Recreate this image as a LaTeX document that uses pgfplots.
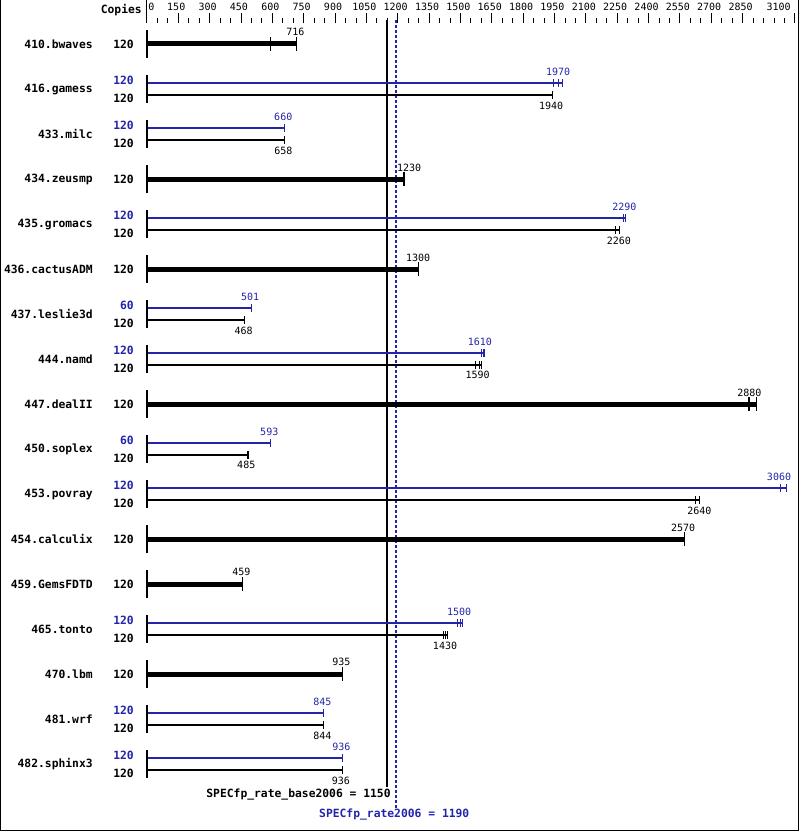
\documentclass[border=0pt]{standalone}
\usepackage{pgfplots}
\pgfplotsset{compat=1.18}
\usepackage{pgfplotstable}
\usepackage{fontspec}
\setmainfont{DejaVu Sans Mono}
\definecolor{peakblue}{RGB}{36,36,170}
\newcommand{\bfont}{\fontsize{8.5}{10}\selectfont\bfseries}
\newcommand{\rfont}{\fontsize{7.5}{9}\selectfont}

% benchmark names (y = row centre, in pixels from top)
\pgfplotstableread{
x y name
-258.4 44 410.bwaves
-258.4 89 416.gamess
-258.4 134 433.milc
-258.4 179 434.zeusmp
-258.4 224 435.gromacs
-258.4 269 436.cactusADM
-258.4 314 437.leslie3d
-258.4 359 444.namd
-258.4 404 447.dealII
-258.4 449 450.soplex
-258.4 494 453.povray
-258.4 539 454.calculix
-258.4 584 459.GemsFDTD
-258.4 629 465.tonto
-258.4 674 470.lbm
-258.4 719 481.wrf
-258.4 764 482.sphinx3
}\names

% copies, base
\pgfplotstableread{
x y c
-23.9 10 Copies
-62.2 44 120
-62.2 98 120
-62.2 143 120
-62.2 179 120
-62.2 233 120
-62.2 269 120
-62.2 323 120
-62.2 368 120
-62.2 404 120
-62.2 458 120
-62.2 503 120
-62.2 539 120
-62.2 584 120
-62.2 638 120
-62.2 674 120
-62.2 728 120
-62.2 773 120
}\copiesbase

% copies, peak
\pgfplotstableread{
x y c
-62.2 80 120
-62.2 125 120
-62.2 215 120
-62.2 305 60
-62.2 350 120
-62.2 440 60
-62.2 485 120
-62.2 620 120
-62.2 710 120
-62.2 755 120
}\copiespeak

% combined result bars (base = peak)
\pgfplotstableread{
x y
0 44
716 44
nan nan
0 179
1232 179
nan nan
0 269
1300 269
nan nan
0 404
2915 404
nan nan
0 539
2570 539
nan nan
0 584
459 584
nan nan
0 674
935 674
}\combined

% base bars
\pgfplotstableread{
x y
0 95
1941 95
nan nan
0 140
658 140
nan nan
0 230
2260 230
nan nan
0 320
468 320
nan nan
0 365
1600 365
nan nan
0 455
486 455
nan nan
0 500
2643 500
nan nan
0 635
1440 635
nan nan
0 725
844 725
nan nan
0 770
936 770
}\basebars

% peak bars
\pgfplotstableread{
x y
0 83
1990 83
nan nan
0 128
660 128
nan nan
0 218
2290 218
nan nan
0 308
501 308
nan nan
0 353
1617 353
nan nan
0 443
593 443
nan nan
0 488
3062 488
nan nan
0 623
1508 623
nan nan
0 713
845 713
nan nan
0 758
936 758
}\peakbars

% value labels
\pgfplotstableread{
x y t
710 32 716
1934 106 1940
653 151 658
1254 168 1230
2258 241 2260
1297 258 1300
462 331 468
1582 375 1590
2882 393 2880
475 465 485
2643 511 2640
2565 528 2570
452 572 459
1426 646 1430
930 662 935
839 736 844
928 781 936
}\baselabels

\pgfplotstableread{
x y t
1967 72 1970
652 117 660
2284 207 2290
493 297 501
1593 342 1610
585 432 593
3024 477 3060
1493 612 1500
839 702 845
930 747 936
}\peaklabels

% scale labels at the top
\pgfplotstableread{
x y t
140 7 150
290 7 300
440 7 450
590 7 600
740 7 750
890 7 900
1040 7 1050
1190 7 1200
1340 7 1350
1490 7 1500
1640 7 1650
1790 7 1800
1940 7 1950
2090 7 2100
2240 7 2250
2390 7 2400
2540 7 2550
2690 7 2700
2840 7 2850
}\scalelabels

\begin{document}
\begin{tikzpicture}
\begin{axis}[
    scale only axis,
    width=599.25pt, height=623.25pt,
    xmin=-703.3, xmax=3119.6,
    ymin=0, ymax=831,
    y dir=reverse,
    hide axis,
    clip=false,
    unbounded coords=jump,
]

% summary lines
\addplot[black, line width=1.5pt] coordinates {(1150,20) (1150,787)};
\addplot[peakblue, line width=1.5pt, dash pattern=on 2.25pt off 1.5pt] coordinates {(1190,20) (1190,808)};

% top scale
\addplot[black, line width=0.75pt] coordinates {(0,0) (0,23)};
\addplot[only marks, mark=|, mark size=3.5pt, mark options={line width=0.75pt, black}] coordinates {
(150,18)(300,18)(450,18)(600,18)(750,18)(900,18)(1050,18)(1200,18)(1350,18)(1500,18)
(1650,18)(1800,18)(1950,18)(2100,18)(2250,18)(2400,18)(2550,18)(2700,18)(2850,18)(3100,18)};
\addplot[only marks, mark=|, mark size=1.65pt, mark options={line width=0.75pt, black}] coordinates {
(50,20.5)(100,20.5)(200,20.5)(250,20.5)(350,20.5)(400,20.5)(500,20.5)(550,20.5)
(650,20.5)(700,20.5)(800,20.5)(850,20.5)(950,20.5)(1000,20.5)(1100,20.5)(1150,20.5)
(1250,20.5)(1300,20.5)(1400,20.5)(1450,20.5)(1550,20.5)(1600,20.5)(1700,20.5)(1750,20.5)
(1850,20.5)(1900,20.5)(2000,20.5)(2050,20.5)(2150,20.5)(2200,20.5)(2300,20.5)(2350,20.5)
(2450,20.5)(2500,20.5)(2600,20.5)(2650,20.5)(2750,20.5)(2800,20.5)(2900,20.5)(2950,20.5)
(3000,20.5)(3050,20.5)};
\addplot[draw=none, nodes near coords, point meta=explicit symbolic,
    every node near coord/.append style={anchor=center, inner sep=0pt, font=\rfont}]
    table[x=x, y=y, meta=t] {\scalelabels};
\addplot[draw=none, nodes near coords, point meta=explicit symbolic,
    every node near coord/.append style={anchor=west, inner sep=0pt, font=\rfont}]
    coordinates {(5,7) [0]};
\addplot[draw=none, nodes near coords, point meta=explicit symbolic,
    every node near coord/.append style={anchor=east, inner sep=0pt, font=\rfont}]
    coordinates {(3081,7) [3100]};

% group markers on the zero line
\addplot[only marks, mark=|, mark size=10.5pt, mark options={line width=1.5pt, black}] coordinates {
(0,44)(0,89)(0,134)(0,179)(0,224)(0,269)(0,314)(0,359)(0,404)
(0,449)(0,494)(0,539)(0,584)(0,629)(0,674)(0,719)(0,764)};

% bars
\addplot[black, line width=3.75pt] table[x=x, y=y] {\combined};
\addplot[black, line width=1.5pt] table[x=x, y=y] {\basebars};
\addplot[peakblue, line width=1.5pt] table[x=x, y=y] {\peakbars};

% individual runs
\addplot[only marks, mark=|, mark size=4.9pt, mark options={line width=0.75pt, black}] coordinates {
(589,44)(716,44)(1228,179)(1232,179)(1300,269)(2878,404)(2882,404)(2915,404)
(2570,539)(459,584)(935,674)};
\addplot[only marks, mark=|, mark size=3pt, mark options={line width=0.75pt, black}] coordinates {
(1938,95)(1941,95)(658,140)(2240,230)(2260,230)(468,320)(1570,365)(1590,365)(1600,365)
(483,455)(486,455)(2625,500)(2643,500)(1420,635)(1430,635)(1440,635)(844,725)(936,770)};
\addplot[only marks, mark=|, mark size=3pt, mark options={line width=0.75pt, peakblue}] coordinates {
(1945,83)(1967,83)(1990,83)(660,128)(2280,218)(2290,218)(501,308)(1600,353)(1610,353)(1617,353)
(593,443)(3030,488)(3059,488)(3062,488)(1485,623)(1500,623)(1508,623)(845,713)(936,758)};

% value labels
\addplot[draw=none, nodes near coords, point meta=explicit symbolic,
    every node near coord/.append style={anchor=center, inner sep=0pt, font=\rfont, black}]
    table[x=x, y=y, meta=t] {\baselabels};
\addplot[draw=none, nodes near coords, point meta=explicit symbolic,
    every node near coord/.append style={anchor=center, inner sep=0pt, font=\rfont, peakblue}]
    table[x=x, y=y, meta=t] {\peaklabels};

% names and copies
\addplot[draw=none, nodes near coords, point meta=explicit symbolic,
    every node near coord/.append style={anchor=east, inner sep=0pt, font=\bfont, black}]
    table[x=x, y=y, meta=name] {\names};
\addplot[draw=none, nodes near coords, point meta=explicit symbolic,
    every node near coord/.append style={anchor=east, inner sep=0pt, font=\bfont, black}]
    table[x=x, y=y, meta=c] {\copiesbase};
\addplot[draw=none, nodes near coords, point meta=explicit symbolic,
    every node near coord/.append style={anchor=east, inner sep=0pt, font=\bfont, peakblue}]
    table[x=x, y=y, meta=c] {\copiespeak};

% overall results
\addplot[draw=none, nodes near coords, point meta=explicit symbolic,
    every node near coord/.append style={anchor=east, inner sep=0pt, font=\bfont, black}]
    coordinates {(1167,795) [SPECfp\_rate\_base2006 = 1150]};
\addplot[draw=none, nodes near coords, point meta=explicit symbolic,
    every node near coord/.append style={anchor=center, inner sep=0pt, font=\bfont, peakblue}]
    coordinates {(1183,815) [SPECfp\_rate2006 = 1190]};

% frame
\draw[line width=0.75pt] (axis cs:-700.9,0) -- (axis cs:-700.9,830.5) -- (axis cs:3117.2,830.5) -- (axis cs:3117.2,0);
\end{axis}
\pgfresetboundingbox
\path (current axis.south west) rectangle (current axis.north east);
\end{tikzpicture}
\end{document}
